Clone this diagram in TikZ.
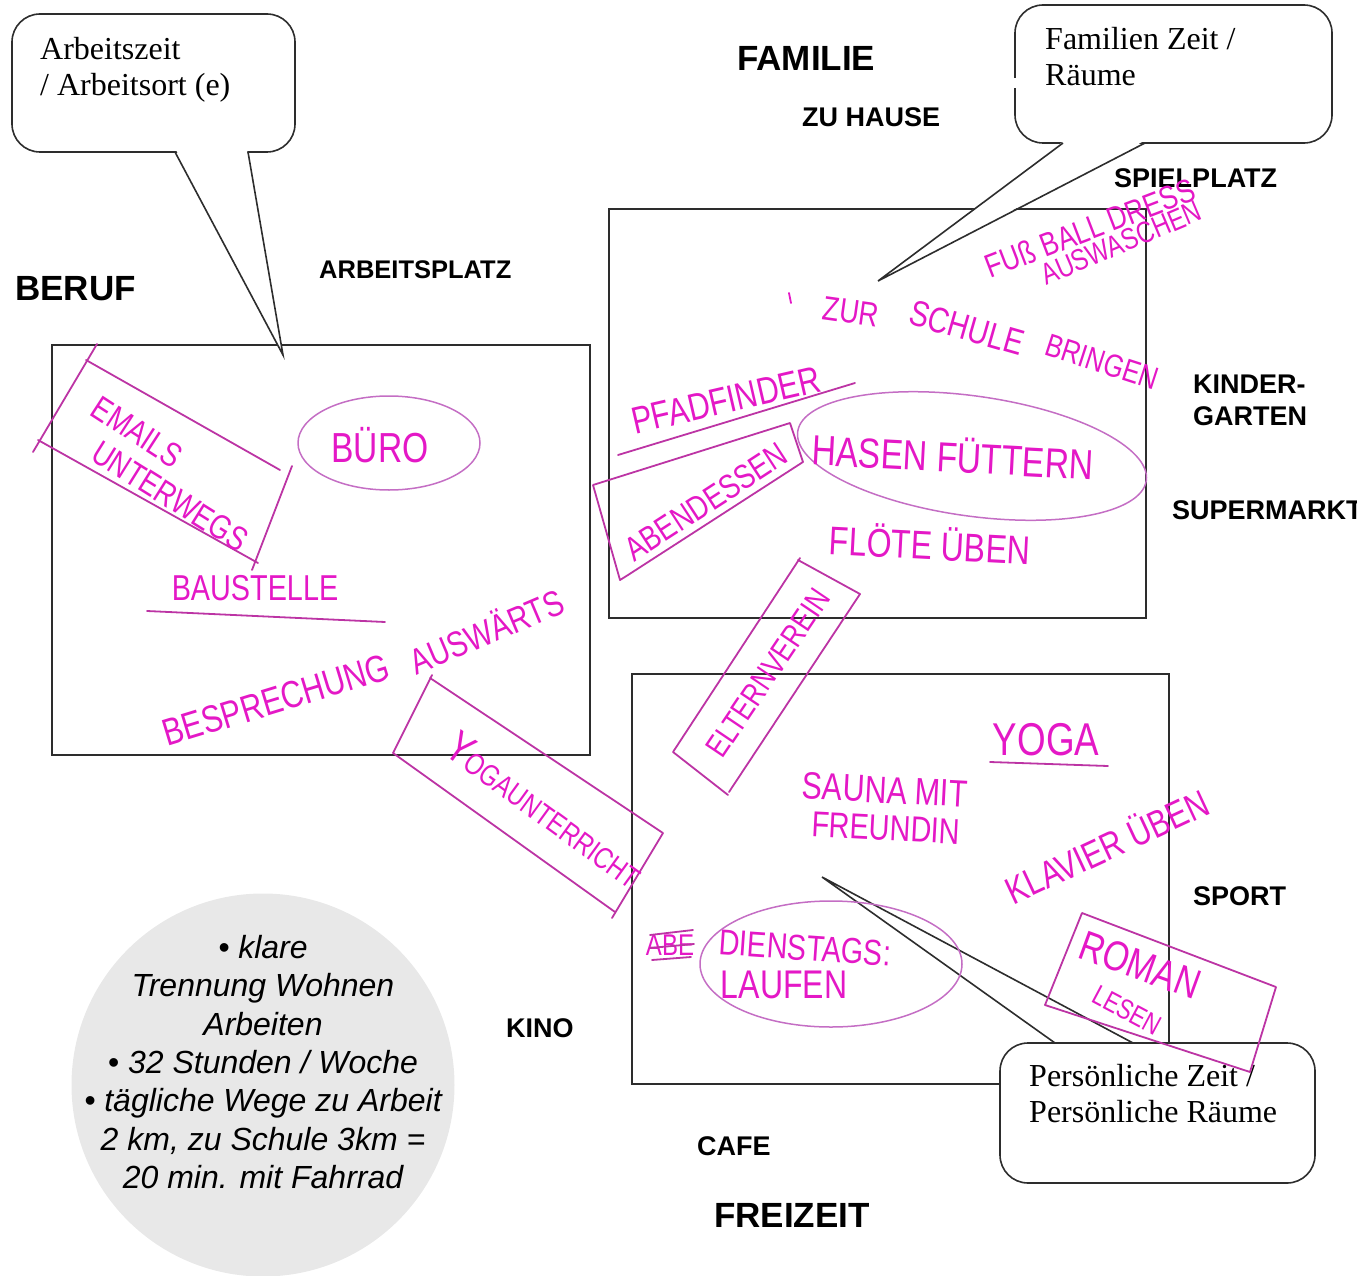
\documentclass[tikz,border=0pt]{standalone}
\usepackage{fontspec}
\setmainfont{Liberation Serif}
\setsansfont{Liberation Sans}
\newfontfamily\handfont[FakeStretch=0.8]{Liberation Sans}
\definecolor{boxgray}{RGB}{45,45,45}
\definecolor{handink}{RGB}{228,24,198}
\definecolor{handline}{RGB}{188,52,164}
\definecolor{handpale}{RGB}{196,110,196}
\definecolor{notegray}{RGB}{232,232,232}

\tikzset{
  area/.style={draw=boxgray, line width=2pt},
  bubble/.style={draw=boxgray, line width=1.6pt, fill=white, rounded corners=28pt},
  tail/.style={draw=boxgray, line width=1.6pt},
  bubbletext/.style={anchor=north west, align=left, inner sep=0pt, font=\fontsize{32}{36}\selectfont},
  lbl/.style={anchor=west, align=left, inner sep=0pt, font=\sffamily\bfseries\fontsize{27}{32}\selectfont},
  biglbl/.style={anchor=west, inner sep=0pt, font=\sffamily\bfseries\fontsize{35}{40}\selectfont},
  hand/.style={text=handink, inner sep=0pt, font=\handfont\fontsize{#1}{#1}\selectfont},
  hand/.default=36,
  handbox/.style={draw=handline, line width=1.8pt, line cap=round, line join=round},
  handthin/.style={draw=handpale, line width=1.5pt},
}

\begin{document}
\begin{tikzpicture}[x=1pt,y=-1pt]
\useasboundingbox (0,0) rectangle (1357,1276);
\clip (0,0) rectangle (1357,1276);

% the three areas
\draw[area] (52,345) rectangle (590,755);
\draw[area] (609,209) rectangle (1146,618);
\draw[area] (632,674) rectangle (1169,1084);

% callouts
\coordinate (worktip) at (283,355);
\draw[bubble] (12,14) rectangle (295,152);
\fill[white] (176,150) -- (worktip) -- (247,150) -- cycle;
\draw[tail] (175,152) -- (worktip) -- (248,152);
\node[bubbletext] (worktext) at (40,37) {Arbeitszeit\\/ Arbeitsort (e)};

\coordinate (familytip) at (878,281);
\draw[bubble] (1015,5) rectangle (1332,143);
\fill[white] (1064,141) -- (familytip) -- (1144,141) -- cycle;
\draw[tail] (1063,143) -- (familytip) -- (1145,143);
\draw[white, line width=3pt] (1015,78) -- (1015,88);
\node[bubbletext] (familytext) at (1045,27) {Familien Zeit /\\Räume};

\coordinate (owntip) at (822,877);
\draw[bubble] (1000,1043) rectangle (1315,1183);
\fill[white] (1056,1041) -- (owntip) -- (1132,1041) -- cycle;
\draw[tail] (1055,1043) -- (owntip) -- (1133,1043);
\node[bubbletext] (owntext) at (1029,1064) {Persönliche Zeit /\\Persönliche Räume};

% printed labels
\node[biglbl] (beruf) at (15,289) {BERUF};
\node[biglbl] (familie) at (737,58) {FAMILIE};
\node[biglbl] (freizeit) at (714,1215) {FREIZEIT};
\node[lbl, font=\sffamily\bfseries\fontsize{25.5}{30}\selectfont] (arbeitsplatz) at (319,270) {ARBEITSPLATZ};
\node[lbl] (zuhause) at (802,117) {ZU HAUSE};
\node[lbl] (spielplatz) at (1114,178) {SPIELPLATZ};
\node[lbl, anchor=north west] (kindergarten) at (1193,375) {KINDER-\\GARTEN};
\node[lbl] (supermarkt) at (1172,510) {SUPERMARKT};
\node[lbl] (sport) at (1193,896) {SPORT};
\node[lbl] (kino) at (506,1028) {KINO};
\node[lbl] (cafe) at (697,1146) {CAFE};

% note circle
\node[circle, fill=notegray, minimum size=383pt, inner sep=0pt] (note) at (263,1085) {};
\node[align=center, inner sep=0pt, font=\sffamily\itshape\fontsize{32}{38.4}\selectfont] (notetext) at (263,1062)
  {• klare\\Trennung Wohnen\\Arbeiten\\• 32 Stunden / Woche\\• tägliche Wege zu Arbeit\\2 km, zu Schule 3km =\\20 min. mit Fahrrad};

% handwriting: Beruf
\draw[handbox] (97,344) -- (33,452);
\draw[handbox] (86,360) -- (280,470);
\draw[handbox] (292,466) -- (252,570);
\draw[handbox] (38,440) -- (258,563);
\node[hand=34, rotate=-33] (emails) at (137,432) {EMAILS};
\node[hand=34, rotate=-32] (unterwegs) at (170,496) {UNTERWEGS};
\draw[handthin] (389,443) ellipse (91 and 47);
\node[hand=42] (buero) at (380,445) {BÜRO};
\node[hand=36] (baustelle) at (255,588) {BAUSTELLE};
\draw[handbox] (147,611) -- (385,622);
\node[hand=38, rotate=17] (besprechung) at (276,700) {BESPRECHUNG};
\node[hand=36, rotate=23] (auswaerts) at (486,630) {AUSWÄRTS};

% handwriting: between areas
\draw[handbox] (430,678) -- (663,833) -- (612,918);
\draw[handbox] (432,675) -- (393,753) -- (615,912);
\node[hand=30, rotate=-36] (yoga) at (545,810) {{\fontsize{44}{44}\selectfont Y}OGAUNTERRICHT};
\draw[handbox] (798,560) -- (860,594) -- (729,792);
\draw[handbox] (800,558) -- (673,752) -- (728,795);
\node[hand=32, rotate=56] (elternverein) at (768,673) {ELTERNVEREIN};

% handwriting: Familie
\node[hand=33, rotate=21] (fussball) at (1090,228) {FUß BALL DRESS};
\node[hand=30, rotate=23] (auswaschen) at (1121,243) {AUSWASCHEN};
\draw[handbox, draw=handink] (789,293) -- (791,303);
\node[hand=34, rotate=-8] (zur) at (851,312) {ZUR};
\node[hand=36, rotate=-16] (schule) at (967,328) {SCHULE};
\node[hand=32, rotate=-18] (bringen) at (1102,362) {BRINGEN};
\node[hand=38, rotate=13] (pfadfinder) at (726,400) {PFADFINDER};
\draw[handbox] (618,455) -- (855,383);
\draw[handbox] (593,485) -- (790,423) -- (803,462) -- (628,575) -- (620,580) -- cycle;
\node[hand=34, rotate=33] (abendessen) at (706,502) {ABENDESSEN};
\draw[handthin, rotate around={-8:(972,456)}] (972,456) ellipse (176 and 60);
\node[hand=42, rotate=-3] (hasen) at (953,455) {HASEN FÜTTERN};
\node[hand=40, rotate=-3] (floete) at (930,543) {FLÖTE ÜBEN};

% handwriting: Freizeit
\node[hand=46] (yogakurs) at (1046,740) {YOGA};
\draw[handbox] (990,762) -- (1108,766);
\node[hand=38, rotate=-3] (sauna) at (885,790) {SAUNA MIT};
\node[hand=36, rotate=-3] (freundin) at (886,828) {FREUNDIN};
\node[hand=38, rotate=25] (klavier) at (1106,845) {KLAVIER ÜBEN};
\node[hand=30] (struck) at (670,945) {ABE};
\draw[handbox] (650,935) -- (693,930);
\draw[handbox] (650,948) -- (694,944);
\draw[handbox] (652,960) -- (691,957);
\draw[handthin] (831,964) ellipse (131 and 63);
\node[hand=36, rotate=-4] (dienstags) at (805,948) {DIENSTAGS:};
\node[hand=40] (laufen) at (784,985) {LAUFEN};
\draw[handbox] (1082,913) -- (1276,987) -- (1250,1072) -- (1045,1005) -- (1082,913);
\node[hand=42, rotate=-20] (roman) at (1140,965) {ROMAN};
\node[hand=28, rotate=-28] (lesen) at (1127,1010) {LESEN};
\end{tikzpicture}
\end{document}
